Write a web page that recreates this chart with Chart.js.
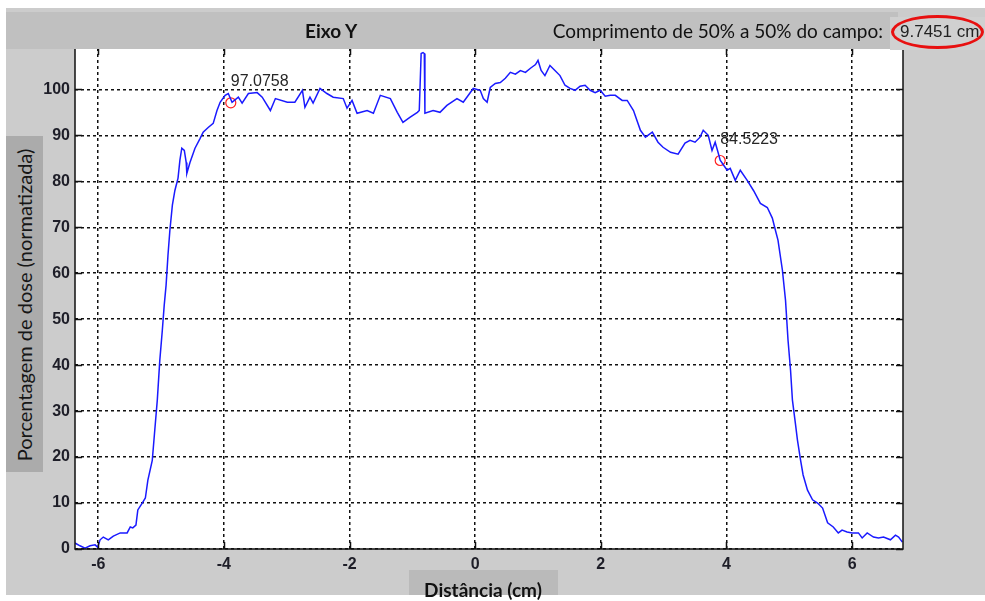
<!DOCTYPE html>
<html lang="pt">
<head>
<meta charset="utf-8">
<title>Eixo Y</title>
<script src="https://cdn.jsdelivr.net/npm/chart.js@4.4.1/dist/chart.umd.min.js"></script>
<style>
  html, body { margin: 0; padding: 0; background: #ffffff; }
  #fig { position: relative; width: 985px; height: 601px; overflow: hidden; background: #ffffff; }
  #panel { position: absolute; left: 6px; top: 8px; width: 979px; height: 587px; background: #cccccc; }
  #plot { position: absolute; left: 0; top: 0; width: 985px; height: 601px; }
  #header { position: absolute; left: 6px; top: 12px; width: 892px; height: 37px; background: #c0c0c0; }
  .htxt { position: absolute; top: 0; height: 37px; line-height: 37px; font-family: Lato, "Noto Sans", sans-serif; font-size: 19px; color: #111; white-space: nowrap; }
  #title { left: 299px; font-weight: bold; }
  #fwhmLbl { right: 15px; }
  #fwhmBox { position: absolute; left: 890px; top: 17px; width: 95px; height: 33px; background: #d0d0d0; }
  #fwhmVal { position: absolute; left: 900px; top: 17px; height: 30px; line-height: 30px; font-family: "Liberation Sans", Arial, sans-serif; font-size: 17px; color: #222; white-space: nowrap; }
  #ring { position: absolute; left: 891px; top: 15px; width: 87px; height: 28px; border: 3px solid #e81010; border-radius: 50%; }
  #yBox { position: absolute; left: 6px; top: 136px; width: 37px; height: 336px; background: #ababab; }
  #yTitle { position: absolute; left: 24px; top: 305px; transform: translate(-50%, -50%) rotate(-90deg); font-family: Lato, "Noto Sans", sans-serif; font-size: 20px; color: #161616; white-space: nowrap; }
  #xBox { position: absolute; left: 409px; top: 570px; width: 149px; height: 25px; background: #bababa; }
  #xTitle { position: absolute; left: 483px; top: 589px; transform: translate(-50%, -50%); font-family: Lato, "Noto Sans", sans-serif; font-size: 19px; font-weight: bold; color: #111; white-space: nowrap; }
  #foot { position: absolute; left: 0; top: 595px; width: 105px; height: 6px; background: #ffffff; }
</style>
</head>
<body>
<div id="fig">
  <div id="panel"></div>
  <canvas id="plot" width="985" height="601"></canvas>
  <div id="header">
    <div class="htxt" id="title">Eixo Y</div>
    <div class="htxt" id="fwhmLbl">Comprimento de 50% a 50% do campo:</div>
  </div>
  <div id="fwhmBox"></div>
  <div id="fwhmVal">9.7451 cm</div>
  <div id="ring"></div>
  <div id="yBox"></div>
  <div id="yTitle">Porcentagem de dose (normatizada)</div>
  <div id="xBox"></div>
  <div id="xTitle">Distância (cm)</div>
  <div id="foot"></div>
</div>
<script>
// Dose profile along the Y axis: position (cm) and normalised dose (%)
const distCm = [
  -6.37, -6.29, -6.21, -6.13, -6.05, -6.01, -5.97, -5.92, -5.84, -5.76,
  -5.65, -5.54, -5.49, -5.45, -5.40, -5.37, -5.30, -5.25, -5.21, -5.14,
  -5.10, -5.06, -5.02, -4.98, -4.95, -4.92, -4.89, -4.86, -4.82, -4.78,
  -4.73, -4.70, -4.67, -4.63, -4.60, -4.59, -4.54, -4.46, -4.38, -4.33,
  -4.25, -4.17, -4.11, -4.06, -3.98, -3.93, -3.87, -3.77, -3.71, -3.61,
  -3.47, -3.39, -3.26, -3.18, -2.99, -2.87, -2.75, -2.71, -2.63, -2.58,
  -2.47, -2.36, -2.26, -2.10, -2.04, -1.96, -1.88, -1.72, -1.62, -1.51,
  -1.35, -1.24, -1.15, -1.04, -0.92, -0.89, -0.86, -0.83, -0.81, -0.80,
  -0.67, -0.56, -0.45, -0.29, -0.19, -0.03, 0.08, 0.13, 0.19, 0.24,
  0.32, 0.40, 0.48, 0.56, 0.64, 0.72, 0.80, 0.88, 0.96, 1.00,
  1.05, 1.11, 1.19, 1.27, 1.35, 1.43, 1.51, 1.59, 1.67, 1.75,
  1.83, 1.91, 1.99, 2.07, 2.15, 2.23, 2.34, 2.42, 2.52, 2.63,
  2.71, 2.82, 2.91, 2.99, 3.11, 3.23, 3.34, 3.42, 3.50, 3.58,
  3.63, 3.71, 3.77, 3.82, 3.87, 3.90, 4.01, 4.06, 4.14, 4.22,
  4.33, 4.43, 4.54, 4.65, 4.73, 4.78, 4.82, 4.89, 4.94, 4.98,
  5.02, 5.05, 5.10, 5.13, 5.18, 5.22, 5.29, 5.37, 5.45, 5.53,
  5.61, 5.70, 5.78, 5.84, 5.92, 6.00, 6.10, 6.16, 6.24, 6.34,
  6.42, 6.50, 6.61, 6.69, 6.74, 6.80
];
const dosePct = [
  1.3, 0.7, 0.2, 0.7, 0.9, 0.4, 2.0, 2.6, 2.0, 2.8,
  3.5, 3.5, 4.8, 4.6, 5.2, 8.5, 10.0, 11.1, 15.0, 19.3,
  25.9, 32.4, 41.1, 47.6, 53.0, 57.4, 63.9, 69.3, 74.8, 78.0,
  80.7, 84.6, 87.2, 86.7, 84.1, 81.7, 84.1, 87.2, 89.3, 90.7,
  91.7, 92.6, 95.4, 97.2, 98.7, 99.1, 97.2, 98.3, 97.0, 99.1,
  99.3, 98.3, 95.4, 98.0, 97.2, 97.2, 99.8, 96.1, 98.3, 97.0,
  100.2, 99.1, 98.3, 98.0, 95.9, 97.6, 94.8, 95.4, 94.8, 98.7,
  98.0, 95.0, 92.8, 93.9, 95.0, 95.4, 107.8, 108.0, 107.8, 94.8,
  95.4, 95.0, 96.5, 98.0, 97.2, 100.2, 99.8, 98.0, 97.2, 100.4,
  101.3, 101.5, 102.4, 103.7, 103.3, 104.1, 103.7, 104.6, 105.4, 106.3,
  104.1, 103.0, 105.2, 104.1, 103.0, 100.9, 100.2, 99.8, 100.7, 100.9,
  99.8, 99.3, 99.8, 98.5, 98.7, 98.7, 97.6, 97.6, 95.4, 91.1,
  89.6, 90.7, 88.5, 87.4, 86.3, 85.9, 88.3, 88.9, 88.5, 89.6,
  91.1, 90.0, 86.7, 88.5, 86.1, 84.6, 82.4, 82.8, 80.2, 82.4,
  80.2, 78.0, 75.2, 74.3, 72.0, 69.3, 67.2, 60.7, 54.1, 45.4,
  38.9, 32.4, 27.0, 23.7, 19.3, 16.1, 12.8, 10.7, 10.0, 8.9,
  5.7, 4.8, 3.5, 4.1, 3.7, 3.5, 3.5, 2.4, 3.5, 2.6,
  2.4, 2.6, 2.0, 3.0, 2.6, 1.5
];

// Marked points on the shoulders of the profile
const markCm = [-3.89, 3.90];
const markPct = [97.0758, 84.5223];

// Axis limits and tick spacing
const xLimits = [-6.37, 6.81];
const yLimits = [0, 109];
const xStep = 2;
const yStep = 10;

const profile = distCm.map((x, i) => ({ x: x, y: dosePct[i] }));
const marks = markCm.map((x, i) => ({ x: x, y: markPct[i] }));

// White axes background, box outline and inward tick marks
const axesFrame = {
  id: 'axesFrame',
  beforeDraw(chart) {
    const a = chart.chartArea, ctx = chart.ctx;
    ctx.save();
    ctx.fillStyle = '#ffffff';
    ctx.fillRect(a.left, a.top, a.right - a.left, a.bottom - a.top);
    ctx.restore();
  },
  afterDraw(chart) {
    const a = chart.chartArea, ctx = chart.ctx;
    const xs = chart.scales.x, ys = chart.scales.y;
    ctx.save();
    ctx.strokeStyle = '#111111';
    ctx.lineWidth = 1.5;
    ctx.strokeRect(a.left, a.top, a.right - a.left, a.bottom - a.top);
    ctx.beginPath();
    xs.ticks.forEach(t => {
      const px = Math.round(xs.getPixelForValue(t.value)) + 0.5;
      ctx.moveTo(px, a.bottom); ctx.lineTo(px, a.bottom - 7);
      ctx.moveTo(px, a.top); ctx.lineTo(px, a.top + 7);
    });
    ys.ticks.forEach(t => {
      const py = Math.round(ys.getPixelForValue(t.value)) + 0.5;
      ctx.moveTo(a.left, py); ctx.lineTo(a.left + 7, py);
      ctx.moveTo(a.right, py); ctx.lineTo(a.right - 7, py);
    });
    ctx.stroke();
    ctx.restore();
  }
};

// Value annotations next to the red markers
const markLabels = {
  id: 'markLabels',
  afterDatasetsDraw(chart) {
    const ctx = chart.ctx;
    const xs = chart.scales.x, ys = chart.scales.y;
    ctx.save();
    ctx.font = '16px "Liberation Sans", Arial, sans-serif';
    ctx.fillStyle = '#262626';
    ctx.textAlign = 'left';
    ctx.textBaseline = 'alphabetic';
    markPct.forEach((v, i) => {
      const px = xs.getPixelForValue(markCm[i]);
      const py = ys.getPixelForValue(v);
      ctx.fillText(v.toFixed(4), px, py - 17);
    });
    ctx.restore();
  }
};

const tickFont = { family: '"Liberation Sans", Arial, sans-serif', size: 16, weight: 'bold' };

new Chart(document.getElementById('plot'), {
  type: 'line',
  data: {
    datasets: [
      {
        data: profile,
        borderColor: '#1a1aff',
        borderWidth: 1.5,
        pointRadius: 0,
        tension: 0,
        fill: false
      },
      {
        data: marks,
        showLine: false,
        pointStyle: 'circle',
        pointRadius: 5,
        pointBorderWidth: 1.2,
        pointBorderColor: '#ff2020',
        pointBackgroundColor: 'rgba(0,0,0,0)'
      }
    ]
  },
  options: {
    responsive: false,
    animation: false,
    events: [],
    layout: { padding: { left: 0, right: 82, top: 48, bottom: 0 } },
    plugins: { legend: { display: false }, tooltip: { enabled: false } },
    scales: {
      x: {
        type: 'linear',
        min: xLimits[0],
        max: xLimits[1],
        afterFit(s) { s.height = 52; },
        grid: { color: '#111111', lineWidth: 1.5, drawTicks: false },
        border: { display: false, dash: [3, 3] },
        ticks: { stepSize: xStep, includeBounds: false, padding: 6, color: '#1e1e28', font: tickFont, maxRotation: 0 }
      },
      y: {
        min: yLimits[0],
        max: yLimits[1],
        afterFit(s) { s.width = 75; },
        grid: { color: '#111111', lineWidth: 1.5, drawTicks: false },
        border: { display: false, dash: [3, 3] },
        ticks: { stepSize: yStep, includeBounds: false, padding: 5, color: '#1e1e28', font: tickFont }
      }
    }
  },
  plugins: [axesFrame, markLabels]
});
</script>
</body>
</html>
